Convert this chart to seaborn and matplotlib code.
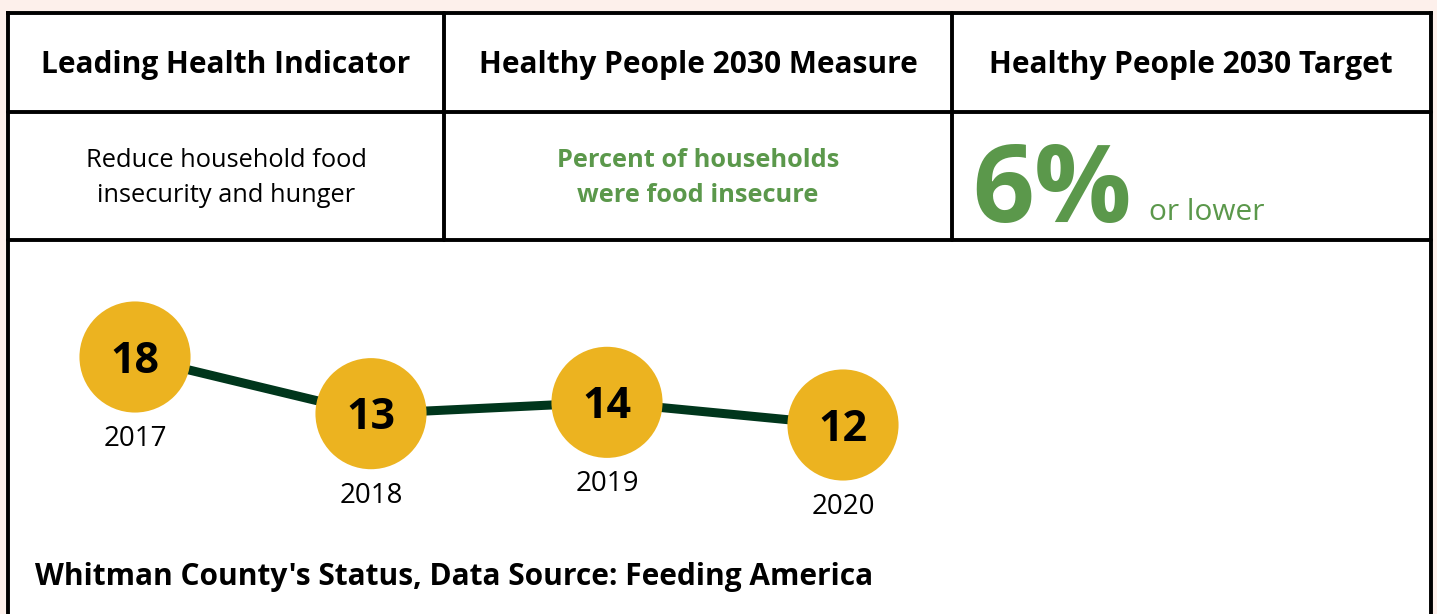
import matplotlib
matplotlib.use("Agg")
import matplotlib.pyplot as plt
import seaborn as sns
import pandas as pd

# data
years = [2017, 2018, 2019, 2020]
year_labels = ["2017", "2018", "2019", "2020"]
pct_insecure = [18, 13, 14, 12]

header_labels = ["Leading Health Indicator", "Healthy People 2030 Measure", "Healthy People 2030 Target"]
indicator_text = "Reduce household food\ninsecurity and hunger"
measure_text = "Percent of households\nwere food insecure"
target_value = "6%"
target_suffix = "or lower"
footer_text = "Whitman County's Status, Data Source: Feeding America"

GREEN = "#5b984b"
GOLD = "#ecb320"
DARK = "#00361c"
BG = "#fdf0eb"

W, H = 1437, 614
sns.set_theme(style="white")
plt.rcParams["font.family"] = ["Open Sans", "DejaVu Sans"]

fig = plt.figure(figsize=(W / 100, H / 100), dpi=100, facecolor=BG)

# table frame, drawn in pixel coordinates
tab = fig.add_axes([0, 0, 1, 1])
tab.set_xlim(0, W)
tab.set_ylim(H, 0)
tab.axis("off")
tab.add_patch(plt.Rectangle((8, 13), 1423, 620, facecolor="white", edgecolor="none", zorder=0))
lw = 2.8
tab.plot([8, 8], [13, H + 5], color="black", lw=lw, solid_capstyle="projecting")
tab.plot([1431, 1431], [13, H + 5], color="black", lw=lw, solid_capstyle="projecting")
tab.plot([8, 1431], [13, 13], color="black", lw=lw, solid_capstyle="projecting")
tab.plot([8, 1431], [112, 112], color="black", lw=lw)
tab.plot([8, 1431], [240, 240], color="black", lw=lw)
tab.plot([444, 444], [13, 240], color="black", lw=lw)
tab.plot([952, 952], [13, 240], color="black", lw=lw)

col_centers = [226, 698, 1191]
for cx, lab in zip(col_centers, header_labels):
    tab.text(cx, 65, lab, ha="center", va="center", fontsize=21.5, fontweight="bold", color="black")

tab.text(226, 178, indicator_text, ha="center", va="center", fontsize=18.3, color="black", linespacing=1.5)
tab.text(698, 178, measure_text, ha="center", va="center", fontsize=18.3, fontweight="bold",
         color=GREEN, linespacing=1.5)
tab.text(972, 222, target_value, ha="left", va="baseline", fontsize=78, fontweight="bold", color=GREEN)
tab.text(1149, 220, target_suffix, ha="left", va="baseline", fontsize=21.5, color=GREEN)

tab.text(35, 577, footer_text, ha="left", va="center", fontsize=21.5, fontweight="bold", color="black")

# trend chart: axes placed so data units land on the circle positions
x0, x1 = 135, 843
y_top, y_bot = 357, 425
ax = fig.add_axes([x0 / W, (H - y_bot) / H, (x1 - x0) / W, (y_bot - y_top) / H])
ax.set_xlim(years[0], years[-1])
ax.set_ylim(min(pct_insecure), max(pct_insecure))
ax.axis("off")
ax.patch.set_alpha(0)

df = pd.DataFrame({"year": years, "pct": pct_insecure})
sns.lineplot(data=df, x="year", y="pct", ax=ax, color=DARK, lw=6.5, zorder=2, clip_on=False)
sns.scatterplot(data=df, x="year", y="pct", ax=ax, color=GOLD, s=6400, edgecolor="none",
                zorder=3, clip_on=False, legend=False)

for yr, val, lab in zip(years, pct_insecure, year_labels):
    ax.annotate(str(val), (yr, val), xytext=(0, -3), textcoords="offset points", ha="center",
                va="center", fontsize=31, fontweight="bold", color="black", zorder=4,
                annotation_clip=False)
    ax.annotate(lab, (yr, val), xytext=(0, -59), textcoords="offset points", ha="center",
                va="center", fontsize=20, color="black", annotation_clip=False)

fig.savefig("out.png", dpi=100, facecolor=BG)
